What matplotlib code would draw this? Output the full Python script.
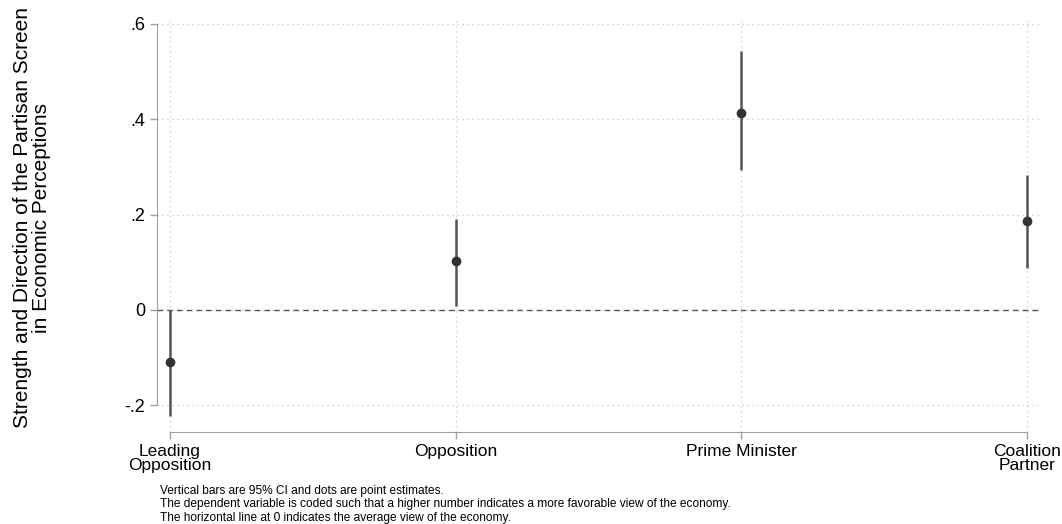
import numpy as np
import matplotlib.pyplot as plt

plt.rcParams['font.family'] = ['Liberation Sans', 'DejaVu Sans']

categories = ['Leading\nOpposition', 'Opposition', 'Prime Minister', 'Coalition\nPartner']
estimates = [-0.108, 0.103, 0.413, 0.186]
ci_low = [-0.222, 0.008, 0.293, 0.088]
ci_high = [0.000, 0.190, 0.542, 0.283]
yticks = [-0.2, 0.0, 0.2, 0.4, 0.6]
ytick_labels = ['-.2', '0', '.2', '.4', '.6']

notes = ['Vertical bars are 95% CI and dots are point estimates.',
         'The dependent variable is coded such that a higher number indicates a more favorable view of the economy.',
         'The horizontal line at 0 indicates the average view of the economy.']

fig = plt.figure(figsize=(10.62, 5.24), dpi=100)
ax = fig.add_axes([0.1478, 0.1756, 0.8315, 0.79])

x = np.arange(len(categories))

# grid
for yt in yticks:
    ax.axhline(yt, color='#c8c8c8', lw=0.9, ls=(0, (1, 3)), zorder=0)
for xt in x:
    ax.axvline(xt, color='#c8c8c8', lw=0.9, ls=(0, (1, 3)), zorder=0)

ax.axhline(0, color='#555555', lw=1.0, ls=(0, (4, 3)), zorder=1)

ax.vlines(x, ci_low, ci_high, color='#555555', lw=1.8, zorder=2)
ax.plot(x, estimates, 'o', color='#333333', ms=6, zorder=3)

ax.set_xlim(-0.045, 3.045)
ax.set_ylim(-0.2555, 0.6115)

ax.set_yticks(yticks)
ax.set_yticklabels(ytick_labels, fontsize=13)
ax.set_xticks(x)
ax.set_xticklabels(categories, fontsize=12.5, linespacing=0.9)

for s in ['top', 'right']:
    ax.spines[s].set_visible(False)
ax.spines['left'].set_bounds(-0.2, 0.6)
ax.spines['bottom'].set_bounds(0, 3)
ax.spines['left'].set_color('#a0a0a0')
ax.spines['bottom'].set_color('#a0a0a0')
ax.tick_params(axis='both', color='#a0a0a0', length=5, width=1)
ax.tick_params(axis='x', pad=4)

ax.set_ylabel('Strength and Direction of the Partisan Screen\nin Economic Perceptions',
              fontsize=15, linespacing=1.0)
ax.yaxis.set_label_coords(-106 / (0.8315 * 1062), 0.517)

for i, t in enumerate(notes):
    fig.text(160 / 1062, 1 - (491 + i * 13.5) / 524, t, fontsize=8.6, va='center', ha='left')

fig.savefig('out.png', dpi=100)
